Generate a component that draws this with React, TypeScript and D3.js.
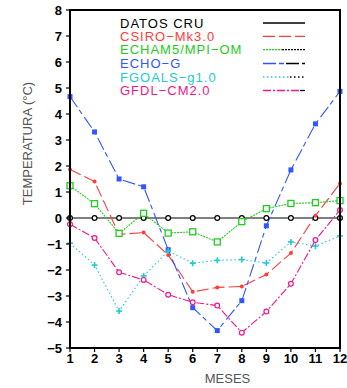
import React from "react";
import * as d3 from "d3";

const months = [1, 2, 3, 4, 5, 6, 7, 8, 9, 10, 11, 12];
const cru = [0, 0, 0, 0, 0, 0, 0, 0, 0, 0, 0, 0];
const csiro = [1.87, 1.4, -0.63, -0.56, -1.42, -2.84, -2.67, -2.63, -2.17, -1.35, 0.09, 1.33];
const echam = [1.24, 0.55, -0.59, 0.18, -0.58, -0.53, -0.92, -0.14, 0.36, 0.56, 0.59, 0.67];
const echo = [4.67, 3.31, 1.5, 1.2, -1.22, -3.45, -4.33, -3.18, -0.3, 1.85, 3.62, 4.87];
const fgoals = [-0.97, -1.81, -3.58, -2.23, -1.27, -1.74, -1.63, -1.6, -1.73, -0.92, -1.08, -0.69];
const gfdl = [-0.24, -0.77, -2.09, -2.38, -2.95, -3.24, -3.37, -4.41, -3.6, -2.53, -0.85, 0.31];
const yTicks = [-5, -4, -3, -2, -1, 0, 1, 2, 3, 4, 5, 6, 7, 8];

const series = [
  { name: "DATOS CRU", values: cru, color: "#000000", dash: "none", marker: "ocircle", split: 305 },
  { name: "CSIRO\u2212Mk3.0", values: csiro, color: "#ff3b3b", dash: "12,4", marker: "dot", split: 305 },
  { name: "ECHAM5/MPI\u2212OM", values: echam, color: "#22cc22", dash: "2,1", marker: "osquare", split: 282 },
  { name: "ECHO\u2212G", values: echo, color: "#3355ff", dash: "13,3,5,4", marker: "fsquare", split: 286 },
  { name: "FGOALS\u2212g1.0", values: fgoals, color: "#22cccc", dash: "1.5,2.5", marker: "plus", split: 290 },
  { name: "GFDL\u2212CM2.0", values: gfdl, color: "#f0168c", dash: "8,2,2,2", marker: "ocircle", split: 300 },
];

const W = 347, H = 388;
const x = d3.scaleLinear().domain([1, 12]).range([70, 340]);
const y = d3.scaleLinear().domain([-5, 8]).range([348, 10]);

function Marker({ kind, cx, cy, color }: { kind: string; cx: number; cy: number; color: string }) {
  if (kind === "ocircle") return <circle cx={cx} cy={cy} r={2.4} fill="#fff" stroke={color} strokeWidth={1.2} />;
  if (kind === "dot") return <circle cx={cx} cy={cy} r={2} fill={color} />;
  if (kind === "osquare") return <rect x={cx - 3} y={cy - 3} width={6} height={6} fill="#fff" stroke={color} strokeWidth={1.3} />;
  if (kind === "fsquare") return <rect x={cx - 2.5} y={cy - 2.5} width={5} height={5} fill={color} />;
  if (kind === "plus")
    return (
      <g stroke={color} strokeWidth={1.6}>
        <line x1={cx - 3} x2={cx + 3} y1={cy} y2={cy} />
        <line x1={cx} x2={cx} y1={cy - 3} y2={cy + 3} />
      </g>
    );
  return null;
}

export default function App() {
  const line = d3
    .line<number>()
    .x((_, i) => x(months[i]))
    .y((d) => y(d));
  const font = "'Liberation Sans', Arial, Helvetica, sans-serif";
  const legendRows = [23, 36.3, 49.7, 63.5, 77, 90.5];
  return (
    <svg width={W} height={H} style={{ position: "absolute", left: 0, top: 0, background: "#fff" }} fontFamily={font}>
      <defs>
        <clipPath id="plot">
          <rect x={70} y={10} width={270} height={338} />
        </clipPath>
      </defs>
      <g clipPath="url(#plot)">
        {series.map((s, k) => (
          <path key={k} d={line(s.values) || ""} fill="none" stroke={s.color} strokeWidth={1.1} strokeDasharray={s.dash} />
        ))}
      </g>
      {series.map((s, k) => (
        <g key={k}>
          {s.values.map((v, i) => (
            <Marker key={i} kind={s.marker} cx={x(months[i])} cy={y(v)} color={s.color} />
          ))}
        </g>
      ))}
      <rect x={70} y={10} width={270} height={338} fill="none" stroke="#000" strokeWidth={2} />
      {yTicks.map((t) => (
        <g key={t}>
          <line x1={66} x2={70} y1={y(t)} y2={y(t)} stroke="#000" strokeWidth={1.2} />
          <text x={62} y={y(t)} dy="0.36em" textAnchor="end" fontSize={13} fontWeight="bold">
            {t < 0 ? "\u2212" + Math.abs(t) : String(t)}
          </text>
        </g>
      ))}
      {months.map((m) => (
        <g key={m}>
          <line x1={x(m)} x2={x(m)} y1={348} y2={352} stroke="#000" strokeWidth={1.2} />
          <text x={x(m)} y={363} textAnchor="middle" fontSize={13} fontWeight="bold">
            {m}
          </text>
        </g>
      ))}
      <text x={227.5} y={383} textAnchor="middle" fontSize={13} fill="#555">
        MESES
      </text>
      <text transform="translate(31.5,143.5) rotate(-90)" textAnchor="middle" fontSize={13} fill="#555">
        TEMPERATURA (°C)
      </text>
      {series.map((s, k) => (
        <g key={k}>
          <text x={120} y={legendRows[k]} dy="0.36em" fontSize={13} fill={s.color} letterSpacing={1}>
            {s.name}
          </text>
          <line x1={263} x2={s.split} y1={legendRows[k]} y2={legendRows[k]} stroke={s.color} strokeWidth={1.3} strokeDasharray={s.dash} />
          {s.split < 305 && (
            <line x1={s.split} x2={305} y1={legendRows[k]} y2={legendRows[k]} stroke="#000" strokeWidth={1.3} strokeDasharray={s.dash} />
          )}
        </g>
      ))}
    </svg>
  );
}
